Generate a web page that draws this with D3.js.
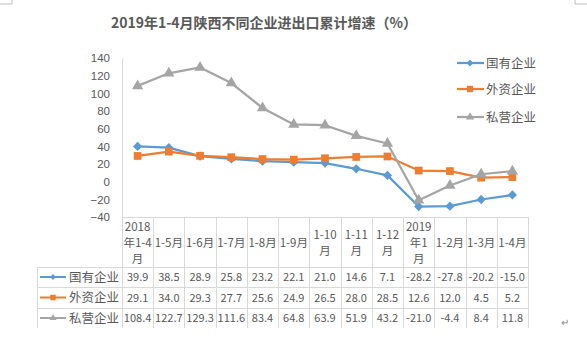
<!DOCTYPE html>
<html>
<head>
<meta charset="utf-8">
<script src="https://cdn.jsdelivr.net/npm/d3@7/dist/d3.min.js"></script>
<style>
  body { margin: 0; background: #fff; }
  svg { display: block; font-family: "Noto Sans CJK SC", "Noto Sans", sans-serif; }
</style>
</head>
<body>
<svg id="chart" width="587" height="347"></svg>
<script>
// categories (header lines) and series values
const categories = [
  ["2018", "年1-4", "月"], ["1-5月"], ["1-6月"], ["1-7月"], ["1-8月"], ["1-9月"],
  ["1-10", "月"], ["1-11", "月"], ["1-12", "月"], ["2019", "年1", "月"],
  ["1-2月"], ["1-3月"], ["1-4月"]
];
const seriesNames = ["国有企业", "外资企业", "私营企业"];
const stateOwned = [39.9, 38.5, 28.9, 25.8, 23.2, 22.1, 21.0, 14.6, 7.1, -28.2, -27.8, -20.2, -15.0];
const foreign = [29.1, 34.0, 29.3, 27.7, 25.6, 24.9, 26.5, 28.0, 28.5, 12.6, 12.0, 4.5, 5.2];
const privateEnt = [108.4, 122.7, 129.3, 111.6, 83.4, 64.8, 63.9, 51.9, 43.2, -21.0, -4.4, 8.4, 11.8];
const yTicks = [-40, -20, 0, 20, 40, 60, 80, 100, 120, 140];

const COLORS = ["#5B9BD5", "#ED7D31", "#A5A5A5"];
const SYMBOLS = [d3.symbolDiamond2, d3.symbolSquare, d3.symbolTriangle];
const TEXT = "#595959";
const GRID = "#d9d9d9";

const svg = d3.select("#chart");
const series = [stateOwned, foreign, privateEnt];
const keys = categories.map((c, i) => i);

const x = d3.scaleBand().domain(keys).range([122, 528]).padding(0);
const y = d3.scaleLinear().domain([-40, 140]).range([217, 58]);

// title
svg.append("text")
  .attr("x", 264).attr("y", 28)
  .attr("text-anchor", "middle")
  .attr("fill", TEXT)
  .attr("font-size", 14)
  .attr("font-weight", "bold")
  .text("2019年1-4月陕西不同企业进出口累计增速（%）");

// corner marks
svg.append("path").attr("d", "M0,4 H12 M587,4 H575 M12,0 V4 M575,0 V4")
  .attr("stroke", "#bfbfbf").attr("fill", "none");

// y axis
const yAxis = d3.axisLeft(y).tickValues(yTicks).tickSize(0).tickPadding(12);
const gy = svg.append("g").attr("transform", "translate(122,0)").call(yAxis);
gy.select(".domain").attr("stroke", GRID);
gy.selectAll("text").attr("fill", TEXT).attr("font-size", 11.5)
  .attr("font-family", "'Liberation Sans', sans-serif");

// table grid
const grid = svg.append("g").attr("stroke", GRID).attr("stroke-width", 1);
const rowTops = [217, 267, 287, 308, 328];
grid.append("line").attr("x1", 122).attr("x2", 528).attr("y1", 217.5).attr("y2", 217.5);
[267, 287, 308].forEach(r => {
  grid.append("line").attr("x1", 37).attr("x2", 528).attr("y1", r + 0.5).attr("y2", r + 0.5);
});
keys.concat([13]).forEach(i => {
  const xx = i < 13 ? x(i) : x.range()[1];
  grid.append("line").attr("x1", Math.round(xx) + 0.5).attr("x2", Math.round(xx) + 0.5)
    .attr("y1", 217).attr("y2", 328);
});
grid.append("line").attr("x1", 37.5).attr("x2", 37.5).attr("y1", 267).attr("y2", 328);

// header labels
const hdr = svg.append("g").attr("fill", TEXT).attr("font-size", 11.5).attr("text-anchor", "middle");
categories.forEach((lines, i) => {
  const cx = x(i) + x.bandwidth() / 2;
  const startY = 243 - (lines.length - 1) * 8 + 4;
  lines.forEach((t, j) => {
    hdr.append("text").attr("x", cx).attr("y", startY + j * 16).text(t);
  });
});

// table rows
series.forEach((vals, s) => {
  const top = rowTops[s + 1], bot = rowTops[s + 2];
  const cy = (top + bot) / 2;
  const row = svg.append("g");
  row.append("line").attr("x1", 40).attr("x2", 66).attr("y1", cy).attr("y2", cy)
    .attr("stroke", COLORS[s]).attr("stroke-width", 2);
  row.append("path").attr("d", d3.symbol().type(SYMBOLS[s]).size(s === 1 ? 30 : 22)())
    .attr("transform", `translate(53,${cy})`).attr("fill", COLORS[s]);
  row.append("text").attr("x", 69).attr("y", cy + 4.5).attr("fill", TEXT)
    .attr("font-size", 12.5).text(seriesNames[s]);
  row.selectAll(".val").data(vals).join("text")
    .attr("x", (d, i) => x(i) + x.bandwidth() / 2)
    .attr("y", cy + 4)
    .attr("text-anchor", "middle")
    .attr("fill", TEXT)
    .attr("font-size", 11)
    .text(d => d.toFixed(1));
});

// lines + markers
const line = d3.line().x((d, i) => x(i) + x.bandwidth() / 2).y(d => y(d));
series.forEach((vals, s) => {
  svg.append("path").datum(vals).attr("d", line)
    .attr("fill", "none").attr("stroke", COLORS[s]).attr("stroke-width", 2.25)
    .attr("stroke-linejoin", "round");
  svg.append("g").selectAll("path").data(vals).join("path")
    .attr("d", d3.symbol().type(SYMBOLS[s]).size(s === 1 ? 60 : 55))
    .attr("transform", (d, i) => `translate(${x(i) + x.bandwidth() / 2},${y(d)})`)
    .attr("fill", COLORS[s]);
});

// legend
const legend = svg.append("g");
[63, 89, 117].forEach((ly, s) => {
  legend.append("line").attr("x1", 457).attr("x2", 484).attr("y1", ly).attr("y2", ly)
    .attr("stroke", COLORS[s]).attr("stroke-width", 2.25);
  legend.append("path").attr("d", d3.symbol().type(SYMBOLS[s]).size(s === 1 ? 40 : 30)())
    .attr("transform", `translate(470,${ly})`).attr("fill", COLORS[s]);
  legend.append("text").attr("x", 486).attr("y", ly + 4.5).attr("fill", TEXT)
    .attr("font-size", 12.5).text(seriesNames[s]);
});

// paragraph mark
svg.append("text").attr("x", 561).attr("y", 326).attr("fill", "#888")
  .attr("font-size", 10).text("↵");
</script>
</body>
</html>
